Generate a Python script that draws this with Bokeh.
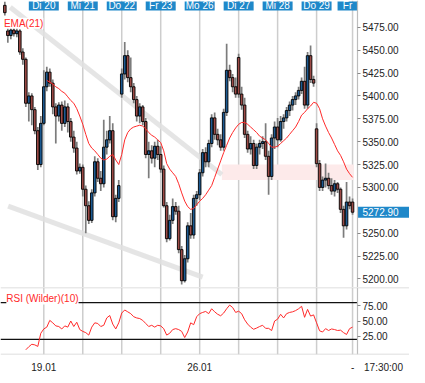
from bokeh.plotting import figure
from bokeh.layouts import column
from bokeh.models import ColumnDataSource, Range1d, FixedTicker, Span, Label, BoxAnnotation, NumeralTickFormatter
from bokeh.embed import file_html
from bokeh.resources import INLINE
from bokeh.core.properties import value

# ---------------- data ----------------
opens = [5499, 5471, 5466, 5472, 5468, 5471, 5448, 5440, 5392, 5400, 5385, 5362, 5325,
         5370, 5410, 5426, 5414, 5388, 5378, 5390, 5370, 5388, 5372, 5355, 5343, 5318,
         5322, 5298, 5280, 5264, 5294, 5328, 5310, 5304, 5344, 5352, 5362, 5268, 5288,
         5402, 5424, 5444, 5420, 5410, 5396, 5378, 5388, 5372, 5336, 5340, 5332, 5345,
         5336, 5320, 5280, 5244, 5264, 5279, 5274, 5232, 5198, 5222, 5258, 5248, 5288,
         5292, 5316, 5338, 5328, 5348, 5376, 5358, 5352, 5344, 5382, 5428, 5420, 5410,
         5442, 5402, 5390, 5358, 5342, 5348, 5324, 5344, 5348, 5350, 5334, 5312, 5354,
         5366, 5352, 5372, 5376, 5384, 5390, 5396, 5400, 5406, 5416, 5390, 5444, 5418,
         5364, 5326, 5300, 5308, 5310, 5302, 5296, 5304, 5298, 5276, 5258, 5284,
         5284]
highs = [5503, 5474, 5475, 5475, 5474, 5473, 5452, 5442, 5404, 5403, 5388, 5366, 5378,
         5428, 5432, 5430, 5418, 5392, 5393, 5394, 5395, 5392, 5376, 5362, 5350, 5326,
         5325, 5302, 5285, 5298, 5334, 5332, 5318, 5374, 5362, 5378, 5370, 5292, 5308,
         5430, 5459, 5450, 5442, 5414, 5400, 5392, 5390, 5376, 5350, 5346, 5350, 5352,
         5345, 5324, 5284, 5270, 5288, 5284, 5280, 5236, 5226, 5262, 5272, 5292, 5296,
         5320, 5342, 5344, 5352, 5380, 5382, 5364, 5358, 5386, 5457, 5434, 5424, 5420,
         5446, 5410, 5398, 5362, 5356, 5352, 5348, 5352, 5356, 5370, 5340, 5358, 5372,
         5376, 5378, 5380, 5388, 5394, 5400, 5404, 5410, 5420, 5432, 5448, 5455, 5422,
         5370, 5330, 5312, 5326, 5316, 5310, 5308, 5306, 5300, 5280, 5306, 5290,
         5288]
lows = [5488, 5458, 5462, 5465, 5464, 5445, 5434, 5388, 5372, 5368, 5358, 5319, 5322,
        5368, 5405, 5410, 5380, 5348, 5372, 5362, 5366, 5360, 5350, 5338, 5314, 5315,
        5290, 5250, 5260, 5261, 5290, 5306, 5296, 5300, 5336, 5348, 5264, 5262, 5284,
        5398, 5418, 5415, 5404, 5392, 5372, 5370, 5368, 5332, 5310, 5326, 5322, 5330,
        5316, 5278, 5240, 5242, 5260, 5270, 5228, 5194, 5196, 5218, 5244, 5244, 5280,
        5286, 5312, 5322, 5322, 5344, 5352, 5346, 5340, 5340, 5378, 5416, 5404, 5398,
        5398, 5385, 5354, 5338, 5336, 5320, 5320, 5336, 5342, 5330, 5292, 5308, 5342,
        5344, 5350, 5364, 5372, 5378, 5384, 5390, 5396, 5402, 5386, 5386, 5414, 5410,
        5322, 5296, 5296, 5300, 5298, 5292, 5290, 5294, 5272, 5245, 5254, 5276,
        5270]
closes = [5491, 5466, 5472, 5468, 5471, 5448, 5440, 5392, 5400, 5385, 5362, 5325, 5370,
          5410, 5426, 5414, 5388, 5378, 5390, 5370, 5388, 5372, 5355, 5343, 5318, 5322,
          5298, 5280, 5264, 5294, 5328, 5310, 5304, 5344, 5352, 5362, 5268, 5288, 5302,
          5424, 5444, 5420, 5410, 5396, 5378, 5388, 5372, 5336, 5340, 5332, 5345, 5336,
          5320, 5280, 5244, 5264, 5279, 5274, 5232, 5198, 5222, 5258, 5248, 5288, 5292,
          5316, 5338, 5328, 5348, 5376, 5358, 5352, 5344, 5382, 5428, 5420, 5410, 5402,
          5402, 5390, 5358, 5342, 5348, 5324, 5344, 5348, 5350, 5334, 5312, 5354, 5366,
          5352, 5372, 5376, 5384, 5390, 5396, 5400, 5406, 5416, 5390, 5444, 5418, 5414,
          5326, 5300, 5308, 5310, 5302, 5296, 5304, 5298, 5276, 5258, 5284, 5280,
          5272.9]

ema_start = 14
ema_vals = [5417, 5415, 5413, 5410, 5408, 5405, 5403, 5399, 5395, 5392, 5386, 5378,
            5369, 5358, 5348, 5343, 5340, 5336, 5332, 5330, 5331, 5334, 5336, 5330, 5325,
            5336, 5352, 5360, 5364, 5366, 5367, 5368, 5367, 5364, 5360, 5357, 5355, 5352,
            5349, 5340, 5326, 5320, 5316, 5312, 5304, 5294, 5285, 5279, 5276, 5277, 5281,
            5285, 5288, 5292, 5297, 5302, 5311, 5320, 5329, 5338, 5346, 5354, 5360, 5365,
            5369, 5371, 5371, 5369, 5366, 5363, 5360, 5356, 5354, 5352, 5348, 5344, 5344,
            5345, 5348, 5351, 5354, 5358, 5362, 5366, 5372, 5379, 5382, 5386, 5389, 5393,
            5392, 5386, 5375, 5367, 5360, 5354, 5347, 5340, 5335, 5328, 5320, 5315, 5311]

rsi_start = 7
rsi_vals = [3, 8, 12, 11, 8.5, 30, 37, 40, 51, 47, 42, 41, 37, 42, 40, 50, 41, 48, 36,
            33, 31, 27, 40, 47, 46, 41, 43, 55, 59, 45, 37, 47, 63, 68, 65, 62, 57, 55, 54,
            51, 46, 41, 43, 40, 43, 42, 37.5, 27, 30, 36, 37.5, 36, 33, 23, 32, 47, 44, 57,
            62, 64, 65.6, 62, 70, 65, 61, 58.5, 63, 70, 76, 72, 64, 66, 62, 52, 45, 40,
            36.5, 38.5, 41, 43, 38, 38, 34.4, 50, 53, 61, 55, 62, 64, 65, 67, 70, 74, 56,
            69, 58, 60, 47, 34, 32, 37.5, 34.5, 37, 36, 34.5, 35, 31, 28, 37.5, 40]

day_starts = [13, 26, 39, 52, 65, 78, 91, 104, 116]
day_labels = ["Di 20", "Mi 21", "Do 22", "Fr 23", "Mo 26", "Di 27", "Mi 28", "Do 29", "Fr"]
week_ticks = [13, 65, 116]
week_labels = ["19.01", "26.01", "-"]
price_ticks = [5200, 5225, 5250, 5300, 5325, 5350, 5375, 5400, 5425, 5450, 5475]
rsi_ticks = [25, 50, 75]
rsi_levels = [80, 20]
last_price = 5272.90
session_close = "17:30:00"

trend1_x = [1.8, 72.4]
trend1_y = [5497, 5314]
trend2_x = [1.1, 66.0]
trend2_y = [5279.5, 5202]
band_x = [72.4, 116.4]
band_y = [5308, 5325]

# ---------------- layout constants ----------------
FONT = "Liberation Sans"
BLUE_BOX = "#1f88c9"
RED = "#ff2a2a"
GRID = "#cdcdcd"
SEP = "#d4d4d4"
W, FH1, FH2 = 409, 287, 67
X0 = -1.445                # left edge of the plotting area (bar index units)
AXIS_X = 117.65            # where the price axis sits (right end of the bar area)
X1 = X0 + (AXIS_X - X0) * W / 357.0   # frame extends under the axis-label column
XR = Range1d(X0, X1)
YR1 = Range1d(5190.6, 5504.3)
YR2 = Range1d(-4.7, 104.7)
HALF_BOX = 5.0             # half width of a day header box, bar units


def style_axis(ax, ticks):
    ax.ticker = FixedTicker(ticks=ticks)
    ax.formatter = NumeralTickFormatter(format="0.00")
    ax.fixed_location = AXIS_X
    ax.axis_line_color = "#bdbdbd"
    ax.axis_line_width = 1.2
    ax.major_tick_line_color = "#888888"
    ax.major_tick_out = 3
    ax.major_tick_in = 0
    ax.minor_tick_line_color = None
    ax.major_label_text_font = FONT
    ax.major_label_text_font_size = "10px"
    ax.major_label_text_color = "#222222"
    ax.major_label_standoff = 2


# ---------------- price panel ----------------
p1 = figure(frame_width=W, frame_height=FH1, x_range=XR, y_range=YR1,
            x_axis_location=None, y_axis_location="right", output_backend="svg",
            toolbar_location=None, min_border_left=0, min_border_right=0,
            min_border_top=0, min_border_bottom=0, title=None)
p1.xgrid.visible = False
p1.ygrid.visible = False
p1.outline_line_color = None

for d in day_starts:
    p1.add_layout(Span(location=d, dimension="height", line_color=GRID,
                       line_width=1.5, level="underlay"))

p1.add_layout(BoxAnnotation(left=band_x[0], right=band_x[1], bottom=band_y[0],
                            top=band_y[1], fill_color="#fdeaea", fill_alpha=1.0,
                            line_color=None, level="underlay"))
p1.line(trend1_x, trend1_y, line_color="#e0e0e0", line_width=5, line_alpha=0.85)
p1.line(trend2_x, trend2_y, line_color="#e0e0e0", line_width=5, line_alpha=0.85)

idx = list(range(len(closes)))
tops = [max(o, c) for o, c in zip(opens, closes)]
bottoms = [min(o, c) for o, c in zip(opens, closes)]
colors = ["#1c5a92" if c >= o else "#9c4a46" for o, c in zip(opens, closes)]
src = ColumnDataSource(dict(x=idx, h=highs, l=lows, top=tops, bottom=bottoms, color=colors))
p1.segment("x", "h", "x", "l", source=src, line_color="#7c7c7c", line_width=1.7)
p1.vbar(x="x", width=0.85, top="top", bottom="bottom", fill_color="color",
        line_color="black", line_width=0.9, source=src)

ema_x = list(range(ema_start, ema_start + len(ema_vals)))
p1.line(ema_x, ema_vals, line_color=RED, line_width=1)

# day header boxes (the last one is cut off by the price axis)
hdr_left = [d - HALF_BOX for d in day_starts]
hdr_right = [min(d + HALF_BOX, AXIS_X) for d in day_starts]
hdr_src = ColumnDataSource(dict(
    x=[(a + b) / 2 for a, b in zip(hdr_left, hdr_right)],
    w=[b - a for a, b in zip(hdr_left, hdr_right)],
    y=[YR1.end - 6.0] * len(day_starts),
    t=day_labels))
p1.rect(x="x", y="y", width="w", height=9, height_units="screen",
        fill_color=BLUE_BOX, line_color=None, source=hdr_src)
p1.text(x="x", y="y", text="t", text_color="white", text_font=value(FONT),
        text_font_size="10px", text_align="center", text_baseline="middle",
        source=hdr_src)

p1.add_layout(Label(x=-0.3, y=5479.5, text="EMA(21)", text_color=RED,
                    text_font=FONT, text_font_size="10px", text_baseline="middle",
                    background_fill_color="white"))

# last price box in the axis column
p1.rect(x=[(AXIS_X + X1) / 2], y=[last_price], width=[X1 - AXIS_X], height=11,
        height_units="screen", fill_color=BLUE_BOX, line_color=None)
p1.text(x=[AXIS_X], y=[last_price], text=[f"{last_price:.2f}"], x_offset=5,
        text_color="white", text_font=value(FONT), text_font_size="10px",
        text_align="left", text_baseline="middle")

style_axis(p1.yaxis[0], price_ticks)

# ---------------- RSI panel ----------------
p2 = figure(frame_width=W, frame_height=FH2, x_range=XR, y_range=YR2,
            y_axis_location="right", output_backend="svg", toolbar_location=None,
            min_border_left=0, min_border_right=0, min_border_top=0,
            min_border_bottom=13, title=None)
p2.xgrid.visible = False
p2.ygrid.visible = False
p2.outline_line_color = None

for d in day_starts:
    p2.add_layout(Span(location=d, dimension="height", line_color=GRID,
                       line_width=1.5, level="underlay"))
for edge in (YR2.start, YR2.end):
    p2.add_layout(Span(location=edge, dimension="width", line_color=SEP,
                       line_width=1.5))
for lv in rsi_levels:
    p2.line([X0, AXIS_X], [lv, lv], line_color="#111111", line_width=1.2)

rsi_x = list(range(rsi_start, rsi_start + len(rsi_vals)))
p2.line(rsi_x, rsi_vals, line_color=RED, line_width=1)

p2.add_layout(Label(x=0.5, y=86, text="RSI (Wilder)(10)", text_color=RED,
                    text_font=FONT, text_font_size="10px", text_baseline="middle",
                    background_fill_color="white"))

style_axis(p2.yaxis[0], rsi_ticks)

bx = p2.xaxis[0]
close_tick = (AXIS_X + X1) / 2
bx.ticker = FixedTicker(ticks=week_ticks + [close_tick])
overrides = {t: s for t, s in zip(week_ticks, week_labels)}
overrides[close_tick] = session_close
bx.major_label_overrides = overrides
bx.axis_line_color = None
bx.major_tick_line_color = None
bx.minor_tick_line_color = None
bx.major_label_text_font = FONT
bx.major_label_text_font_size = "10px"
bx.major_label_text_color = "#222222"
bx.major_label_standoff = 1

layout = column(p1, p2, spacing=0)
open("out.html", "w").write(file_html(layout, INLINE))
